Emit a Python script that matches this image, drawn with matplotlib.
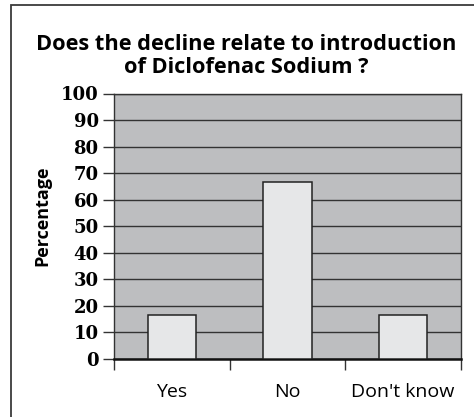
import numpy as np
import matplotlib
matplotlib.use('Agg')
import matplotlib.pyplot as plt
from matplotlib.patches import Rectangle

# ========== data ==========
categories = ['Yes', 'No', "Don't know"]
percentages = [16.67, 66.67, 16.67]
y_ticks = list(range(0, 101, 10))

W, H = 474, 417
fig = plt.figure(figsize=(W / 100, H / 100), dpi=100)

# outer frame (cropped on the right and bottom)
fig.patches.append(Rectangle((11 / W, -0.05), 1.1, 1 - 5 / H + 0.05,
                             transform=fig.transFigure, fill=False,
                             edgecolor='#3a3a3a', linewidth=1.3))

ax = fig.add_axes([114 / W, (H - 359) / H, (461 - 114) / W, (359 - 93.5) / H])
ax.set_facecolor('#bdbec0')

x = np.arange(len(categories))
ax.bar(x, percentages, width=0.42, color='#e6e7e8', edgecolor='#222222',
       linewidth=1.1, zorder=3)

ax.set_ylim(0, 100)
ax.set_xlim(-0.5, len(categories) - 0.5)
ax.set_yticks(y_ticks)
ax.set_yticklabels([str(v) for v in y_ticks], family='DejaVu Serif',
                   fontweight='bold', fontsize=13)
ax.yaxis.grid(True, color='#333333', linewidth=1.0, zorder=1)
ax.set_axisbelow(True)

# boundary ticks below the axis, labels at category centres
ax.set_xticks(np.arange(-0.5, len(categories), 1.0))
ax.set_xticklabels([])
ax.set_xticks(x, minor=True)
ax.set_xticklabels(categories, minor=True, family='Open Sans', fontsize=14)
ax.tick_params(axis='x', which='major', length=8, width=1.0, color='#333333')
ax.tick_params(axis='x', which='minor', length=0, pad=17)
ax.tick_params(axis='y', length=8, width=1.0, color='#333333', pad=3)

for side in ['top', 'right', 'left']:
    ax.spines[side].set_color('#333333')
    ax.spines[side].set_linewidth(1.0)
ax.spines['bottom'].set_color('#111111')
ax.spines['bottom'].set_linewidth(1.8)

ax.set_ylabel('Percentage', family='Open Sans', fontweight='bold', fontsize=13)
ax.yaxis.set_label_coords(-0.18, 0.54)

fig.text(246 / W, 1 - 56 / H,
         'Does the decline relate to introduction\nof Diclofenac Sodium ?',
         ha='center', va='center', family='Open Sans', fontweight='bold',
         fontsize=15.7, linespacing=1.12)

plt.savefig('out.png', dpi=100)
